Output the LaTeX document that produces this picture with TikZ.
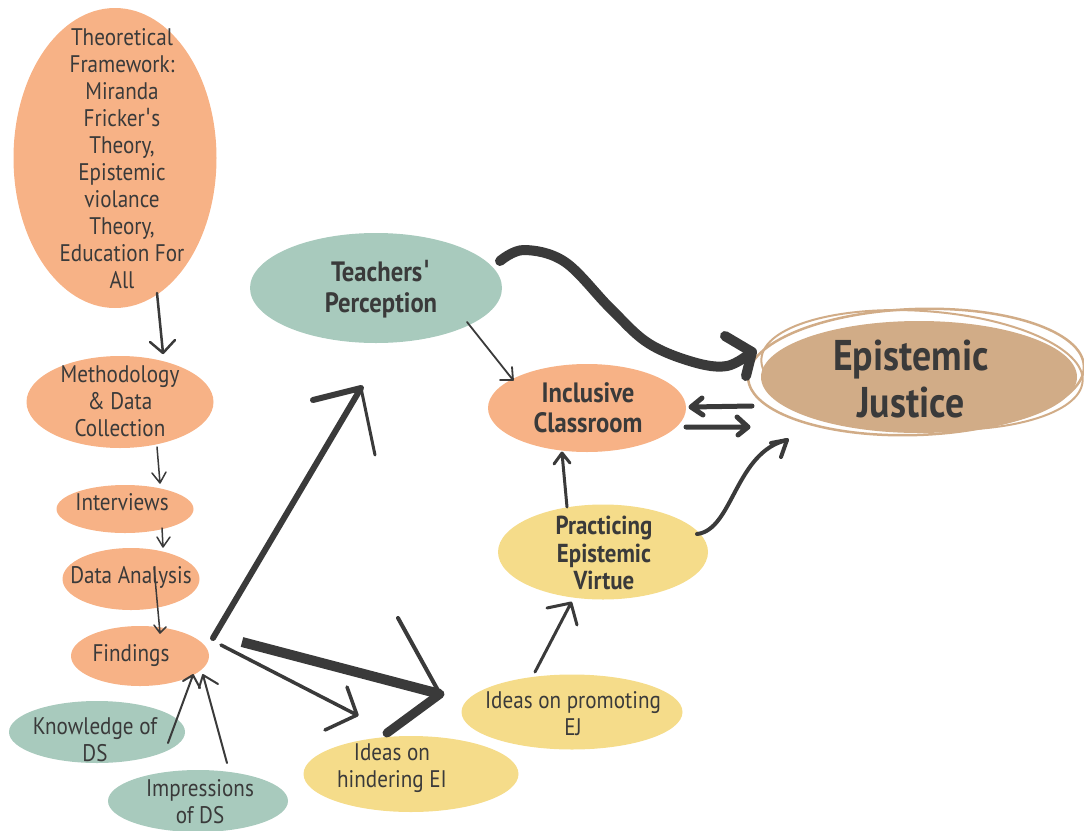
\documentclass[tikz,border=0pt]{standalone}
\usepackage{fontspec}
\setmainfont[FakeStretch=0.88, Ligatures=TeXOff]{PT Sans}
\newfontfamily\aposfont{DejaVu Sans}
\newcommand\apos{{\aposfont\char"02C8}}
\usetikzlibrary{shapes.geometric}
\definecolor{peach}{HTML}{F7B286}
\definecolor{sage}{HTML}{A8CABD}
\definecolor{sand}{HTML}{F5DC8A}
\definecolor{ejtan}{HTML}{D1AC87}
\definecolor{ink}{HTML}{3A3A3A}
\begin{document}
\begin{tikzpicture}[x=1pt,y=-1pt,
  blob/.style={ellipse, inner sep=0pt, draw=none},
  txt/.style={inner sep=0pt, align=center, text=ink},
  reg/.style={font=\fontsize{24}{27}\selectfont},
  bld/.style={font=\bfseries\fontsize{28}{31}\selectfont},
  conn/.style={draw=ink, line cap=round, line join=round}]
\useasboundingbox (0,0) rectangle (1084,830);
\clip (0,0) rectangle (1084,830);
% --- bubbles ---
\node[blob, fill=peach, minimum width=203pt, minimum height=300pt] (theo) at (115,158) {};
\node[txt, reg] (theo-t) at (122,159)
  {Theoretical\\Framework:\\Miranda\\Fricker\apos s\\Theory,\\Epistemic\\violance\\Theory,\\Education For\\All};
\node[blob, fill=peach, minimum width=187pt, minimum height=92pt] (meth) at (120,402) {};
\node[txt, reg] (meth-t) at (120,401) {Methodology\\\& Data\\Collection};
\node[blob, fill=peach, minimum width=137pt, minimum height=48pt] (interv) at (125,509) {};
\node[txt, reg] (interv-t) at (122,502) {Interviews};
\node[blob, fill=peach, minimum width=137pt, minimum height=62pt] (data) at (131,579) {};
\node[txt, reg] (data-t) at (131,577) {Data Analysis};
\node[blob, fill=peach, minimum width=138pt, minimum height=60pt] (find) at (140,656) {};
\node[txt, reg] (find-t) at (131,656) {Findings};
\node[blob, fill=sage, minimum width=176pt, minimum height=62pt] (know) at (97,732) {};
\node[txt, reg] (know-t) at (95,740) {Knowledge of\\DS};
\node[blob, fill=sage, minimum width=180pt, minimum height=62pt] (impr) at (198,801) {};
\node[txt, reg] (impr-t) at (200,802) {Impressions\\of DS};
\node[blob, fill=sage, minimum width=252pt, minimum height=110pt] (tp) at (376,288) {};
\node[txt, bld] (tp-t) at (381,289) {Teachers\apos\\Perception};
\node[blob, fill=peach, minimum width=198pt, minimum height=88pt] (incl) at (587,408) {};
\node[txt, bld, font=\bfseries\fontsize{28}{30}\selectfont] (incl-t) at (588,408) {Inclusive\\Classroom};
\node[blob, fill=sand, minimum width=210pt, minimum height=95pt] (prac) at (603,552) {};
\node[txt, font=\bfseries\fontsize{26}{27.5}\selectfont] (prac-t) at (604,553) {Practicing\\Epistemic\\Virtue};
\node[blob, fill=sand, minimum width=221pt, minimum height=75pt] (prom) at (572,712) {};
\node[txt, reg] (prom-t) at (573,714) {Ideas on promoting\\EJ};
\node[blob, fill=sand, minimum width=215pt, minimum height=76pt] (hind) at (411,774) {};
\node[txt, reg] (hind-t) at (392,768) {Ideas on\\hindering EI};
% Epistemic Justice with sketchy rings
\node[blob, fill=ejtan, minimum width=316pt, minimum height=112pt] (ej) at (919,377) {};
\draw[ejtan, line width=2.5pt] (916,372) ellipse [x radius=168, y radius=63, rotate=2];
\draw[ejtan, line width=2pt] (922,370) ellipse [x radius=161, y radius=59, rotate=-4];
\node[txt, font=\bfseries\fontsize{43}{47}\selectfont] (ej-t) at (911,379) {Epistemic\\Justice};
% --- connectors ---
% theo -> meth
\coordinate (a1s) at (157,293); \coordinate (a1t) at (163,353);
\draw[conn, line width=2.5pt] (a1s) -- (a1t) ++(-13,-11) -- (a1t) -- ++(12,-13);
% meth -> interv
\coordinate (a2s) at (157,447); \coordinate (a2t) at (160,483);
\draw[conn, line width=1.5pt] (a2s) -- (a2t) ++(-8,-10) -- (a2t) -- ++(6,-11);
% interv -> data
\coordinate (a3s) at (162,528); \coordinate (a3t) at (163,547);
\draw[conn, line width=1.5pt] (a3s) -- (a3t) ++(-6,-10) -- (a3t) -- ++(7,-10);
% data -> find
\coordinate (a4s) at (154,567); \coordinate (a4t) at (160,633);
\draw[conn, line width=1.5pt] (a4s) -- (a4t) ++(-6,-8) -- (a4t) -- ++(6,-6);
% know -> find
\coordinate (a5s) at (168,743); \coordinate (a5t) at (193,675);
\draw[conn, line width=2pt] (a5s) -- (a5t) ++(-10,6) -- (a5t) -- ++(7,13);
% impr -> find
\coordinate (a6s) at (227,763); \coordinate (a6t) at (203,675);
\draw[conn, line width=2pt] (a6s) -- (a6t) ++(-4,13) -- (a6t) -- ++(15,9);
% tp -> incl
\coordinate (a7s) at (467,322); \coordinate (a7t) at (513,380);
\draw[conn, line width=1.8pt] (a7s) -- (a7t) ++(-13,0) -- (a7t) -- ++(-1,-13);
% prac -> incl
\coordinate (a8s) at (567,507); \coordinate (a8t) at (562,453);
\draw[conn, line width=3pt] (a8s) -- (a8t) ++(-8,11) -- (a8t) -- ++(8,10);
% prom -> prac
\coordinate (a9s) at (535,672); \coordinate (a9t) at (571,603);
\draw[conn, line width=3pt] (a9s) -- (a9t) ++(-24,5) -- (a9t) -- ++(6,22);
% find -> tp (thick)
\coordinate (b1s) at (213,638); \coordinate (b1t) at (361,388);
\draw[conn, line width=6pt] (b1s) -- (b1t) (313,400) -- (b1t);
\draw[conn, line width=3pt] (b1t) -- (375,455);
% find -> hind
\coordinate (b2s) at (221,645); \coordinate (b2t) at (357,715);
\draw[conn, line width=3.5pt] (b2s) -- (b2t) (347,687) -- (b2t) -- (325,730);
% find -> (thick, towards ideas)
\coordinate (b3s) at (242,642); \coordinate (b3t) at (440,694);
\draw[conn, line width=10pt, line cap=butt] (b3s) -- (b3t);
\draw[conn, line width=4pt] (398,618) -- (b3t);
\draw[conn, line width=9pt] (b3t) -- (387,733);
% tp -> ej (big curve)
\coordinate (c1s) at (500,261); \coordinate (c1t) at (752,352);
\draw[conn, line width=10pt] plot[smooth, tension=0.6] coordinates {(c1s) (524,250) (565,262) (610,308) (648,343) (693,362) (727,366) (c1t)};
\draw[conn, line width=10pt] (725,336) -- (c1t) -- (746,376);
% ej -> incl
\coordinate (d1s) at (752,406); \coordinate (d1t) at (691,407);
\draw[conn, line width=5pt] (d1s) -- (d1t) ++(11,-9) -- (d1t) -- ++(12,8);
% incl -> ej
\coordinate (d2s) at (686,427); \coordinate (d2t) at (748,427);
\draw[conn, line width=5pt] (d2s) -- (d2t) ++(-11,-10) -- (d2t) -- ++(-10,8);
% prac -> ej
\coordinate (d3s) at (697,534); \coordinate (d3t) at (787,440);
\draw[conn, line width=4pt] (d3s) .. controls (733,530) and (735,452) .. (d3t);
\draw[conn, line width=4pt] (771,443) -- (d3t) -- (781,457);
\end{tikzpicture}
\end{document}
